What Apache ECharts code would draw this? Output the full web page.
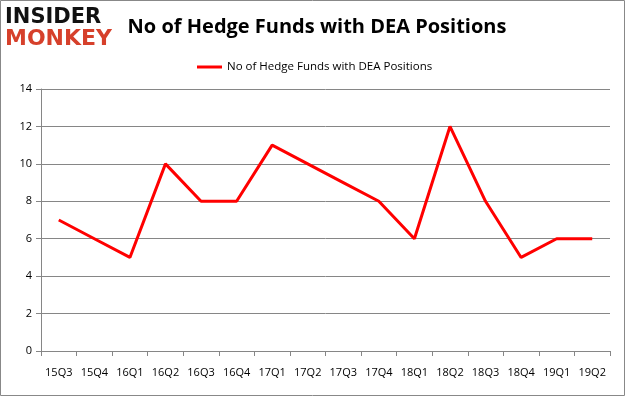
<!DOCTYPE html>
<html><head><meta charset="utf-8">
<script src="https://cdn.jsdelivr.net/npm/echarts@6/dist/echarts.min.js"></script>
<style>html,body{margin:0;padding:0;background:#fff}#c{width:626px;height:397px}</style>
</head><body><div id="c"></div>
<script>
const categories = ['15Q3','15Q4','16Q1','16Q2','16Q3','16Q4','17Q1','17Q2','17Q3','17Q4','18Q1','18Q2','18Q3','18Q4','19Q1','19Q2'];
const funds = [7,6,5,10,8,8,11,10,9,8,6,12,8,5,6,6];
const seriesName = 'No of Hedge Funds with DEA Positions';
const titleText = 'No of Hedge Funds with DEA Positions';

const chart = echarts.init(document.getElementById('c'), null, {renderer:'canvas'});
chart.setOption({
  backgroundColor:'#fff',
  animation:false,
  title:{text:titleText,left:312,textAlign:'center',top:12,
    textStyle:{fontFamily:'"Open Sans", sans-serif',fontWeight:'bold',fontSize:20,color:'#000'}},
  legend:{data:[{name:seriesName,icon:'rect'}],top:56,left:192,itemWidth:25,itemHeight:3,itemGap:5,
    textStyle:{fontFamily:'"Open Sans", sans-serif',fontSize:11.5,color:'#000'}},
  graphic:[
    {type:'rect',shape:{x:0.5,y:0.5,width:624,height:395},style:{fill:null,stroke:'#888',lineWidth:1}},
    {type:'text',left:5,top:7,style:{text:'INSIDER',font:'bold 21px "DejaVu Sans", sans-serif',fill:'#111'}},
    {type:'text',left:5,top:28,style:{text:'MONKEY',font:'bold 22px "DejaVu Sans", sans-serif',fill:'#d6402b'}}
  ],
  grid:{left:41,right:16,top:89,bottom:46,containLabel:false},
  xAxis:{type:'category',data:categories,boundaryGap:true,
    axisLine:{lineStyle:{color:'#868686'}},
    axisTick:{show:true,alignWithLabel:false,length:5,lineStyle:{color:'#868686'}},
    axisLabel:{margin:16,fontFamily:'"Open Sans", sans-serif',fontSize:11,color:'#000',interval:0}},
  yAxis:{type:'value',min:0,max:14,interval:2,
    axisLine:{show:true,lineStyle:{color:'#868686'}},
    axisTick:{show:true,length:5,lineStyle:{color:'#868686'}},
    splitLine:{lineStyle:{color:'#868686'}},
    axisLabel:{margin:9,fontFamily:'"Open Sans", sans-serif',fontSize:11,color:'#000'}},
  series:[{name:seriesName,type:'line',data:funds,symbol:'none',
    lineStyle:{color:'#ff0000',width:3},itemStyle:{color:'#ff0000'}}]
});
</script></body></html>
